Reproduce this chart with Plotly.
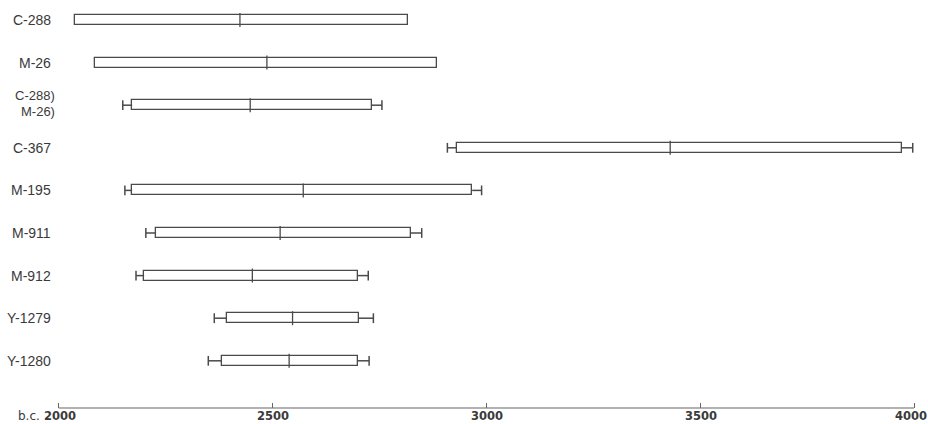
import plotly.graph_objects as go

labels = ["C-288", "M-26", "C-288)<br>M-26)", "C-367", "M-195", "M-911", "M-912", "Y-1279", "Y-1280"]
whisker_low = [None, None, 2150, 2909, 2155, 2204, 2181, 2364, 2350]
box_low = [2038, 2086, 2172, 2931, 2172, 2228, 2200, 2393, 2381]
center = [2424, 2487, 2448, 3430, 2572, 2518, 2453, 2547, 2539]
box_high = [2817, 2884, 2732, 3971, 2967, 2823, 2699, 2702, 2699]
whisker_high = [None, None, 2756, 3997, 2989, 2849, 2724, 2736, 2726]
tick_vals = [2000, 2500, 3000, 3500, 4000]
tick_text = ["2000", "2500", "3000", "3500", "4000"]

W, H = 928, 424
LINE = "#4a4a4a"
TXT = "#3a3a3a"
ypos = list(range(len(labels)))

fig = go.Figure()

# boxes
fig.add_trace(go.Bar(
    y=ypos, x=[h - l for l, h in zip(box_low, box_high)], base=box_low,
    orientation="h", width=0.235,
    marker=dict(color="white", line=dict(color=LINE, width=1.3)),
    hoverinfo="skip", showlegend=False,
))

# whiskers
wx, wy, cx, cy = [], [], [], []
for i in ypos:
    if whisker_low[i] is not None:
        wx += [whisker_low[i], box_low[i], None]
        wy += [i, i, None]
        cx.append(whisker_low[i]); cy.append(i)
    if whisker_high[i] is not None:
        wx += [box_high[i], whisker_high[i], None]
        wy += [i, i, None]
        cx.append(whisker_high[i]); cy.append(i)
fig.add_trace(go.Scatter(x=wx, y=wy, mode="lines", line=dict(color=LINE, width=1.5),
                         hoverinfo="skip", showlegend=False))
fig.add_trace(go.Scatter(x=cx, y=cy, mode="markers",
                         marker=dict(symbol="line-ns", size=7, line=dict(color=LINE, width=1.5)),
                         hoverinfo="skip", showlegend=False))
# centre marks
fig.add_trace(go.Scatter(x=center, y=ypos, mode="markers",
                         marker=dict(symbol="line-ns", size=10, line=dict(color=LINE, width=1.3)),
                         hoverinfo="skip", showlegend=False))

# row labels
lab_font = dict(family="Liberation Sans, Arial", size=14, color=TXT)
for i, lab in enumerate(labels):
    if "<br>" in lab:
        parts = lab.split("<br>")
        for part, shift in zip(parts, [10, -6]):
            fig.add_annotation(x=57 / W, xref="paper", y=i, yref="y", yshift=shift,
                               text=part, showarrow=False, xanchor="right",
                               font=dict(family="Liberation Sans, Arial", size=13, color=TXT))
    else:
        fig.add_annotation(x=53 / W, xref="paper", y=i, yref="y",
                           text=lab, showarrow=False, xanchor="right", font=lab_font)

# axis line
fig.add_shape(type="line", xref="x", yref="paper", x0=tick_vals[0], x1=tick_vals[-1], y0=0, y1=0,
              line=dict(color="#666666", width=1.2))
fig.add_annotation(x=tick_vals[0], xref="x", y=0, yref="paper", yshift=-8, yanchor="middle",
                   text="b.c.", showarrow=False, xanchor="right", xshift=-18, borderpad=0,
                   font=dict(family="DejaVu Sans", size=12, color=TXT))
# tick labels
for k, (tv, tt) in enumerate(zip(tick_vals, tick_text)):
    fig.add_annotation(x=tv, xref="x", y=0, yref="paper", yshift=-8, yanchor="middle",
                       xanchor="center", xshift=(-3 if k == len(tick_vals) - 1 else 1),
                       text="<b>%s</b>" % tt, showarrow=False, borderpad=0,
                       font=dict(family="DejaVu Sans", size=11.5, color=TXT))

px_per_year = (914 - 58.6) / 2000
r0 = 2000 - 58.6 / px_per_year
r1 = r0 + W / px_per_year
plot_h = 408
row_sp = 42.6
y0r = -20 / row_sp
y1r = y0r + plot_h / row_sp

fig.update_layout(
    width=W, height=H,
    margin=dict(l=0, r=0, t=0, b=H - plot_h, autoexpand=False),
    paper_bgcolor="white", plot_bgcolor="white",
    xaxis=dict(range=[r0, r1], showgrid=False, zeroline=False, showline=False,
               tickvals=tick_vals, showticklabels=False,
               ticks="inside", ticklen=5, tickcolor="#666666", tickwidth=1,
               automargin=False),
    yaxis=dict(range=[y1r, y0r], showgrid=False, zeroline=False, showline=False,
               showticklabels=False, ticks="", automargin=False),
    bargap=0,
)

fig.write_html("out.html", config={"displayModeBar": False},
               post_script="document.body.style.margin='0';document.body.style.overflow='hidden';")
